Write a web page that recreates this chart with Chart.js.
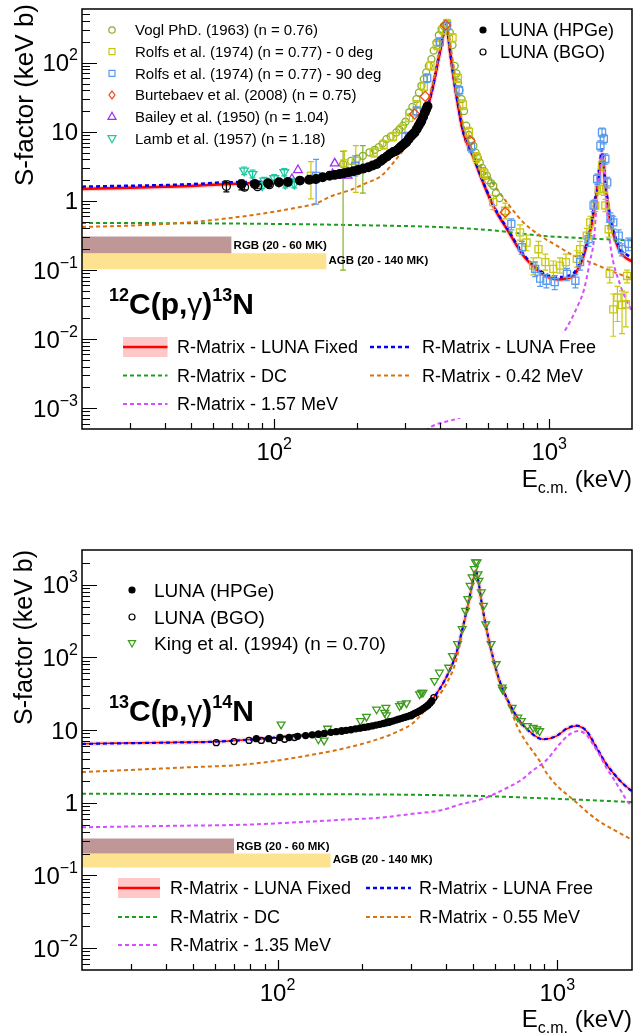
<!DOCTYPE html>
<html><head><meta charset="utf-8">
<script src="https://cdn.jsdelivr.net/npm/chart.js@4/dist/chart.umd.min.js"></script>
<style>
html,body{margin:0;padding:0;background:#fff;}
body{width:644px;height:1033px;position:relative;overflow:hidden;}
#cA{position:absolute;left:0;top:0;}
#cB{position:absolute;left:0;top:505px;}
</style></head><body>
<canvas id="cA" width="644" height="505"></canvas>
<canvas id="cB" width="644" height="528"></canvas>
<script>
// ================= PANEL A : 12C(p,gamma)13N =================
const topXRange = [20, 2000];
const topYRange = [5e-4, 600];
const topXTicks = [100, 1000];
const topXTickLabels = ['10^2', '10^3'];
const topYTicks = [1e-3, 1e-2, 1e-1, 1, 10, 100];
const topYTickLabels = ['10^\u22123', '10^\u22122', '10^\u22121', '1', '10', '10^2'];

// R-Matrix curves
const topFixedE = [20,30,40,50,66,80,100,125,150,180,210,240,270,300,325,345,360,378,390,400,410,420,428,435,447,460,487,530,560,609,643,701,805,927,1000,1081,1160,1227,1290,1335,1400,1432,1470,1494,1530,1556,1575,1600,1635,1670,1740,1815,1900,2000];
const topFixedS = [1.49,1.55,1.60,1.65,1.75,1.80,1.88,2.0,2.2,2.5,2.9,3.5,5.0,6.9,10,15,22,46,85,141,230,335,260,157,70,33,9.8,4.3,2.4,1.07,0.69,0.394,0.162,0.093,0.078,0.073,0.076,0.083,0.115,0.162,0.33,0.49,0.95,1.49,3.0,4.77,3.3,1.66,0.85,0.49,0.27,0.181,0.15,0.133];
const topFreeS = [1.61,1.66,1.70,1.75,1.86,1.88,1.93,2.03,2.22,2.52,2.9,3.5,5.0,6.9,10,15,22,46,87,145,240,350,270,160,72,34,10,4.4,2.45,1.1,0.71,0.41,0.17,0.098,0.083,0.079,0.082,0.09,0.125,0.175,0.36,0.55,1.1,1.75,3.6,5.6,3.9,1.9,0.95,0.55,0.3,0.2,0.17,0.15];
const topDcE = [20,50,100,245,411,600,927,1300,2000];
const topDcS = [0.48,0.475,0.465,0.44,0.417,0.38,0.315,0.29,0.268];
const topR042E = [20,30,46,60,80,100,123,140,163,190,215,245,270,290,310,338,357,375,390,405,420,430,440,455,480,500,530,560,609,701,805,927,1065,1200,1410,1700,2000];
const topR042S = [0.42,0.44,0.48,0.53,0.61,0.7,0.81,0.905,1.19,1.45,1.8,2.3,3.5,5.0,7.05,12.3,23.8,45,90,200,330,280,150,62,16,8.8,5.0,3.2,2.05,0.957,0.49,0.315,0.226,0.17,0.13,0.095,0.075];
const topR157E = [340,373,473,600,800,1000,1150,1290,1335,1410,1450,1494,1530,1556,1575,1600,1635,1670,1815,2000];
const topR157S = [0.0004,0.00054,0.00073,0.0012,0.003,0.007,0.014,0.035,0.05,0.14,0.25,1.1,2.8,4.6,3.2,1.5,0.5,0.22,0.06,0.025];

// data sets
const topHpgeE = [76,85,95,104,112,124,134,142,150,159,166,173,180,186,194,202,211,220,228,236,244,249,257,264,271,278,285,290,296,302,308,314,319,324,330,335,340,343,348,353,357,361];
const topHpgeS = [1.74,1.76,1.80,1.86,1.88,1.97,2.03,2.08,2.2,2.32,2.38,2.45,2.53,2.6,2.7,2.8,2.95,3.07,3.25,3.42,3.8,4.05,4.4,4.8,5.1,5.33,5.8,6.2,6.6,7.05,7.8,8.6,9.2,9.8,11,12.3,13.5,14.5,16.5,19,21.3,23.4];
const topHpgeLo = [1.45,1.6];
const topHpgeHi = [2.0,1.93];
const topBgoE = [67,78,87,96];
const topBgoS = [1.63,1.58,1.61,1.72];
const topBgoLo = [1.35,1.45,1.5,1.6];
const topBgoHi = [1.95,1.72,1.73,1.85];
const voglE = [178,190,200,210,222,232,240,248,256,265,278,285,294,300,310,318,329,336,343,350,357,365,373,380,389,397,406,414,423,435,445,453,460,466,472,480,490,499,510,520,530,540,550,559,570,580,593,600,615,626,640,660];
const voglS = [3.4,3.8,4.1,4.5,5.06,5.5,6.0,6.8,7.86,8.5,9.8,10.8,12.3,14,19.2,23,29.8,37,46.4,58,72.5,90,113,150,196,250,305,340,370,275,180,90,70,52,40,29.8,20,12.3,9.0,7.5,6.3,5.0,4.2,3.6,3.0,2.7,2.32,2.0,1.8,1.66,1.3,1.1];
const voglLo = [0.1,null,null,1.3];
const voglHi = [5.2,null,null,6.3];
const rolfs0E = [136,180,198,230,250,270,290,310,330,350,370,390,410,425,445,465,485,510,545,580,626,692,783,827,875,914,968,1035,1093,1150,1260,1295,1370,1410,1470,1515,1556,1580,1600,1645,1660,1710,1770,1840,1900,1920];
const rolfs0S = [2.32,3.5,3.8,5.0,6.5,8.5,11,16,25,45,90,180,300,370,230,60,25,10,4.3,2.5,0.96,0.72,0.35,0.25,0.116,0.2,0.13,0.104,0.116,0.13,0.145,0.2,0.315,0.49,0.86,1.49,3.24,1.49,0.86,0.39,0.088,0.027,0.04,0.031,0.032,0.082];
const rolfs0Lo = [1.07,2.3,1.33,4.3,5.6,7.4,9.6,14,22,39,78,155,260,320,200,52,21,8.5,3.6,2.1,0.75,0.55,0.27,0.19,0.085,0.15,0.1,0.08,0.09,0.1,0.11,0.155,0.25,0.4,0.7,1.25,2.7,1.2,0.7,0.3,0.065,0.011,0.018,0.012,0.015,0.065];
const rolfs0Hi = [3.7,5.3,6.3,5.8,7.5,9.8,12.6,18,28,52,104,210,345,425,265,69,29,11.6,5.0,2.95,1.2,0.93,0.45,0.32,0.15,0.26,0.17,0.135,0.15,0.17,0.19,0.26,0.4,0.6,1.05,1.8,3.9,1.8,1.05,0.5,0.11,0.045,0.058,0.05,0.048,0.1];
const rolfs90E = [142,197,300,330,360,400,425,470,520,728,795,889,927,977,1047,1160,1245,1295,1390,1450,1494,1535,1556,1580,1600,1625,1670,1710,1790,1840,1940];
const rolfs90S = [2.3,3.2,8.5,20,60,200,340,40,6,0.465,0.214,0.104,0.075,0.07,0.067,0.088,0.07,0.13,0.28,0.86,2.08,6.3,9.8,7.9,4.05,1.86,0.55,0.49,0.315,0.2,0.24];
const rolfs90Lo = [0.9,2.3,7.3,17,52,175,300,34,5.1,0.38,0.17,0.08,0.058,0.055,0.052,0.07,0.055,0.1,0.22,0.7,1.75,5.3,8.4,6.7,3.4,1.55,0.44,0.39,0.25,0.16,0.19];
const rolfs90Hi = [4.0,4.5,9.8,23,69,230,380,46,6.9,0.55,0.26,0.13,0.092,0.086,0.083,0.106,0.086,0.16,0.34,1.02,2.45,7.4,11.3,9.2,4.8,2.2,0.67,0.6,0.38,0.24,0.29];
const burtE = [324,354,420,515,692];
const burtS = [18.1,32.6,350,7.4,0.686];
const baileyE = [116,122,136,163,166,173,185];
const baileyS = [2.08,2.8,1.97,2.45,3.5,2.32,2.32];
const lambE = [77.7,83.4,90.4,92,100,104,108.8,109.7,114,118.3];
const lambS = [2.74,2.45,1.66,1.97,2.13,1.85,2.6,1.76,1.9,1.76];
const lambLo = [2.4,2.15,1.5,1.75,1.9,1.65,2.3,1.55,1.7,1.55];
const lambHi = [3.1,2.8,1.85,2.2,2.4,2.05,2.95,1.98,2.12,1.98];

// stellar Gamow-window bands: [Emin, Emax], [S upper, S lower]
const topRgbE = [20,70];  const topRgbS = [0.305,0.175];
const topAgbE = [20,155]; const topAgbS = [0.175,0.103];
const bandLabels = ['RGB (20 - 60 MK)', 'AGB (20 - 140 MK)'];

const topSeriesLabels = ['Vogl PhD. (1963) (n = 0.76)','Rolfs et al. (1974) (n = 0.77) - 0 deg','Rolfs et al. (1974) (n = 0.77) - 90 deg','Burtebaev et al. (2008) (n = 0.75)','Bailey et al. (1950) (n = 1.04)','Lamb et al. (1957) (n = 1.18)'];
const lunaLabels = ['LUNA (HPGe)','LUNA (BGO)'];
const topModelLabels = ['R-Matrix - LUNA Fixed','R-Matrix - LUNA Free','R-Matrix - DC','R-Matrix - 0.42 MeV','R-Matrix - 1.57 MeV'];

// ================= PANEL B : 13C(p,gamma)14N =================
const botXRange = [20, 1850];
const botYRange = [5e-3, 3000];
const botXTicks = [100, 1000];
const botXTickLabels = ['10^2', '10^3'];
const botYTicks = [1e-2, 1e-1, 1, 10, 100, 1000];
const botYTickLabels = ['10^\u22122', '10^\u22121', '1', '10', '10^2', '10^3'];

const botFixedE = [20,40,60,100,136,180,235,288,310,322,340,360,401,435,460,486,503,511,522,535,557,589,622,676,734,818,889,993,1078,1170,1270,1380,1498,1582,1700,1816,1850];
const botFixedS = [6.5,6.75,6.94,7.9,8.75,10.0,12.0,14.7,16.0,17.8,21,27,53,111,259,673,1268,1566,1140,603,259,100,47.6,22.7,13.4,8.75,7.47,8.26,10.3,11.4,9.7,5.74,3.38,2.59,1.9,1.53,1.45];
const botFreeS = [6.45,6.72,6.92,7.9,8.75,10.0,12.0,14.7,16.0,17.8,21,27,53,112,262,680,1280,1575,1150,608,260,100,47.6,22.7,13.4,8.75,7.47,8.3,10.4,11.5,9.8,5.8,3.4,2.6,1.9,1.52,1.44];
const botDcE = [20,100,231,385,573,800,1124,1500,1850];
const botDcS = [1.33,1.31,1.30,1.27,1.23,1.17,1.11,1.06,1.02];
const botR055E = [20,45,78,136,180,231,270,305,349,380,401,435,460,486,503,511,522,535,557,589,622,676,714,763,865,914,1000,1138,1380,1600,1850];
const botR055S = [2.64,3.04,3.38,4.64,5.8,7.6,9.6,12.5,22,31,42.8,89.8,250,650,1250,1560,1140,600,255,96,45,21,12,7.47,3.75,2.59,1.7,1.11,0.59,0.42,0.31];
const botR135E = [20,40,78,130,179,231,300,385,450,520,573,650,734,820,914,1018,1100,1190,1270,1343,1420,1500,1582,1700,1780,1850];
const botR135S = [0.46,0.48,0.50,0.55,0.59,0.62,0.7,0.79,0.95,1.08,1.23,1.55,1.99,2.8,3.85,6.37,8.6,9.7,8.6,6.37,4.5,3.0,2.2,1.4,1.05,0.9];

const botHpgeE = [84,93,102,110,118,126,133,140,147,155,162,169,176,183,190,197,204,211,218,225,232,239,245,252,258,265,271,278,284,290,297,303,309,315,321,327,333,339,345,351,356];
const botHpgeS = [7.6,7.6,7.9,7.9,8.2,8.4,8.6,8.8,9.0,9.3,9.5,9.7,9.9,10.1,10.4,10.6,10.9,11.1,11.4,11.7,12.0,12.3,12.6,13.0,13.3,13.7,14.1,14.5,14.9,15.3,15.8,16.3,16.9,17.5,18.2,19.0,19.9,20.9,22.0,23.5,25.2];
const botBgoE = [60.4,69.9,79.1,87.5,97.2,106,115,140,170,205,250,300,362];
const botBgoS = [6.7,6.94,7.2,7.2,7.2,7.47,7.9,8.8,9.7,10.9,12.8,15.7,28];
const kingE = [103,140,146.7,151,198,208,226,241.6,244,245,273,277,289,322,327,331,364,379,409,422,440,457,470,479,488,496,505,510,517,521,525,535,545,555,580,605,635,638,690,723,744,782,820,846,865];
const kingS = [12.0,7.47,7.2,10.5,13.4,15.3,19.3,17.4,20.4,16,21.5,22.7,23.5,31.2,32.8,32.8,47.6,62,72.6,105,153,246,440,638,973,1268,1650,2040,2040,1400,1140,788,516,287,153,81,38.6,36,20.4,14.9,13.4,11.4,10.8,10.3,9.7];

const botRgbE = [20,70];  const botRgbS = [0.322,0.2];
const botAgbE = [20,155]; const botAgbS = [0.2,0.129];

const botSeriesLabels = ['LUNA (HPGe)','LUNA (BGO)','King et al. (1994) (n = 0.70)'];
const botModelLabels = ['R-Matrix - LUNA Fixed','R-Matrix - LUNA Free','R-Matrix - DC','R-Matrix - 0.55 MeV','R-Matrix - 1.35 MeV'];

// ================= styling =================
const FF = '"Liberation Sans", Arial, Helvetica, sans-serif';
const COL = {
  vogl: '#86b02a', rolfs0: '#c8c814', rolfs90: '#5a9af0', burt: '#f04b14',
  bailey: '#a02cf0', lamb: '#1ec8a0', king: '#3c9b1e', black: '#000000',
  red: '#ff0000', blue: '#0000ff', dc: '#1e9e1e', r1: '#d9720f', r2: '#d94dff',
  halo: 'rgba(255,150,150,0.45)', haloB: 'rgba(255,160,160,0.35)', band: '#ffc8c8', rgb: '#bf9797', agb: '#fde38f'
};

const pts = (xs, ys) => xs.map((x, i) => ({ x, y: ys[i] }));
function curve(xs, ys, color, width, dash, order) {
  return { data: pts(xs, ys), showLine: true, borderColor: color, borderWidth: width,
    borderDash: dash || [], pointRadius: 0, fill: false, cubicInterpolationMode: 'monotone',
    order, clip: 0 };
}
function markers(xs, ys, color, style, r, filled, order, rot, lo, hi) {
  return { data: pts(xs, ys), showLine: false, pointStyle: style, pointRadius: r,
    pointBorderColor: color, borderColor: color, pointBorderWidth: 1.3,
    pointBackgroundColor: filled ? color : 'rgba(0,0,0,0)', pointRotation: rot || 0,
    order, errLo: lo, errHi: hi, errColor: color };
}
function band(xs, ys, color) {
  return [
    { data: pts(xs, [ys[0], ys[0]]), showLine: true, borderWidth: 0, pointRadius: 0,
      backgroundColor: color, fill: '+1', order: 60, clip: 0 },
    { data: pts(xs, [ys[1], ys[1]]), showLine: true, borderWidth: 0, pointRadius: 0,
      fill: false, order: 60, clip: 0 }
  ];
}

function setFont(ctx, size, bold) { ctx.font = (bold ? 'bold ' : '') + size + 'px ' + FF; }
function drawParts(ctx, parts, x, y, align) {
  let total = 0;
  const ws = parts.map(p => { setFont(ctx, p.size, p.bold); const w = ctx.measureText(p.t).width; total += w; return w; });
  let cx = align === 'right' ? x - total : (align === 'center' ? x - total / 2 : x);
  ctx.textAlign = 'left'; ctx.textBaseline = 'alphabetic';
  parts.forEach((p, i) => { setFont(ctx, p.size, p.bold); ctx.fillText(p.t, cx, y + (p.dy || 0)); cx += ws[i]; });
}
function tickParts(label, size, sup) {
  const [b, e] = label.split('^');
  const parts = [{ t: b, size }];
  if (e) parts.push({ t: e, size: sup, dy: -Math.round(size * 0.45) });
  return parts;
}
function drawMarker(ctx, m, x, y) {
  ctx.save();
  ctx.lineWidth = m.lw || 1.2; ctx.strokeStyle = m.color; ctx.fillStyle = m.color;
  ctx.beginPath();
  const r = m.r;
  if (m.style === 'circle') ctx.arc(x, y, r, 0, Math.PI * 2);
  else if (m.style === 'rect') ctx.rect(x - r, y - r, 2 * r, 2 * r);
  else if (m.style === 'rectRot') { ctx.moveTo(x, y - r * 1.3); ctx.lineTo(x + r, y); ctx.lineTo(x, y + r * 1.3); ctx.lineTo(x - r, y); ctx.closePath(); }
  else if (m.style === 'triangle') { const s = m.down ? 1 : -1; ctx.moveTo(x, y + s * r); ctx.lineTo(x + r * 0.9, y - s * r * 0.6); ctx.lineTo(x - r * 0.9, y - s * r * 0.6); ctx.closePath(); }
  if (m.filled) ctx.fill();
  ctx.stroke();
  ctx.restore();
}
function logMinor(min, max) {
  const out = [];
  for (let e = Math.floor(Math.log10(min)); e <= Math.ceil(Math.log10(max)); e++)
    for (let k = 1; k < 10; k++) { const v = k * Math.pow(10, e); if (v > min * 1.0001 && v < max * 0.9999) out.push({ v, major: k === 1 }); }
  return out;
}

function makeDecor(o) {
  return {
    id: o.id,
    beforeDatasetDraw(chart, args) {
      const ds = chart.data.datasets[args.index];
      if (!ds.errLo) return;
      const ctx = chart.ctx, ys = chart.scales.y, a = chart.chartArea;
      ctx.save();
      ctx.beginPath(); ctx.rect(a.left, a.top, a.right - a.left, a.bottom - a.top); ctx.clip();
      ctx.strokeStyle = ds.errColor; ctx.lineWidth = 1.2;
      args.meta.data.forEach((el, i) => {
        const lo = ds.errLo[i], hi = ds.errHi[i];
        if (lo == null || hi == null) return;
        const y1 = ys.getPixelForValue(lo), y2 = ys.getPixelForValue(hi);
        ctx.beginPath();
        ctx.moveTo(el.x, y1); ctx.lineTo(el.x, y2);
        ctx.moveTo(el.x - 3, y1); ctx.lineTo(el.x + 3, y1);
        ctx.moveTo(el.x - 3, y2); ctx.lineTo(el.x + 3, y2);
        ctx.stroke();
      });
      ctx.restore();
    },
    afterDatasetsDraw(chart) {
      const ctx = chart.ctx, a = chart.chartArea, xs = chart.scales.x, ys = chart.scales.y;
      ctx.save();
      if (o.whiteBox) { ctx.fillStyle = '#fff'; ctx.fillRect(...o.whiteBox); }
      ctx.fillStyle = '#000';
      o.bandLabels.forEach(b => {
        const x = xs.getPixelForValue(b.e) + 2, y = ys.getPixelForValue(b.s) - 4;
        drawParts(ctx, [{ t: b.text, size: 11.5, bold: true }], x, y, 'left');
      });
      ctx.strokeStyle = '#000'; ctx.lineWidth = 1.5;
      ctx.strokeRect(a.left, a.top, a.right - a.left, a.bottom - a.top);
      ctx.lineWidth = 1.2; ctx.beginPath();
      logMinor(xs.min, xs.max).forEach(t => {
        const x = Math.round(xs.getPixelForValue(t.v)) + 0.5;
        ctx.moveTo(x, a.bottom); ctx.lineTo(x, a.bottom - (t.major ? 10 : 6));
      });
      logMinor(ys.min, ys.max).forEach(t => {
        const y = Math.round(ys.getPixelForValue(t.v)) + 0.5;
        ctx.moveTo(a.left, y); ctx.lineTo(a.left + (t.major ? 15 : 8), y);
      });
      ctx.stroke();
      ctx.fillStyle = '#000';
      o.xTicks.forEach((v, i) => drawParts(ctx, tickParts(o.xTickLabels[i], 24, 16), xs.getPixelForValue(v), a.bottom + 31, 'center'));
      o.yTicks.forEach((v, i) => drawParts(ctx, tickParts(o.yTickLabels[i], 24, 16), a.left - 4, ys.getPixelForValue(v) + 8.5, 'right'));
      drawParts(ctx, [{ t: 'E', size: 24 }, { t: 'c.m.', size: 16, dy: 6 }, { t: ' (keV)', size: 24 }], a.right, o.xTitleY, 'right');
      ctx.save(); ctx.translate(o.yTitle.x, o.yTitle.y); ctx.rotate(-Math.PI / 2);
      setFont(ctx, o.yTitle.size, false); ctx.textAlign = 'right'; ctx.textBaseline = 'alphabetic';
      ctx.fillText('S-factor (keV b)', 0, 0); ctx.restore();
      const R = o.reaction;
      drawParts(ctx, [
        { t: R.a, size: 18, bold: true, dy: -13 }, { t: 'C(p,', size: 30, bold: true },
        { t: '\u03b3', size: 30 }, { t: ')', size: 30, bold: true },
        { t: R.b, size: 18, bold: true, dy: -13 }, { t: 'N', size: 30, bold: true }], R.x, R.y, 'left');
      o.pointLegends.forEach(L => {
        L.items.forEach((it, i) => {
          const y = L.rows[i];
          drawMarker(ctx, it.m, L.mx, y);
          ctx.fillStyle = '#000';
          drawParts(ctx, [{ t: it.label, size: L.size }], L.tx, y + L.size * 0.36, 'left');
        });
      });
      const M = o.model;
      M.items.forEach((it, i) => {
        const c = i % 2, r = Math.floor(i / 2);
        const y = M.rows[r], x1 = M.mx[c][0], x2 = M.mx[c][1];
        ctx.save();
        if (it.band) { ctx.fillStyle = COL.band; ctx.fillRect(x1, y - 10, x2 - x1, 20); }
        ctx.strokeStyle = it.color; ctx.lineWidth = it.w; ctx.setLineDash(it.dash || []);
        ctx.beginPath(); ctx.moveTo(x1, y); ctx.lineTo(x2, y); ctx.stroke();
        ctx.restore();
        ctx.fillStyle = '#000';
        drawParts(ctx, [{ t: it.label, size: 18 }], M.tx[c], y + 18 * 0.36, 'left');
      });
      ctx.restore();
    }
  };
}

function buildChart(id, datasets, decor, xr, yr, pad) {
  return new Chart(document.getElementById(id), {
    type: 'line',
    data: { datasets },
    options: {
      responsive: false, animation: false, devicePixelRatio: 1, events: [],
      layout: { padding: pad },
      scales: {
        x: { type: 'logarithmic', min: xr[0], max: xr[1], display: false },
        y: { type: 'logarithmic', min: yr[0], max: yr[1], display: false }
      },
      plugins: { legend: { display: false }, tooltip: { enabled: false } }
    },
    plugins: [decor]
  });
}

const DASH = [4, 3];
const mk = {
  vogl: { style: 'circle', r: 3.2, color: COL.vogl },
  rolfs0: { style: 'rect', r: 3, color: COL.rolfs0 },
  rolfs90: { style: 'rect', r: 3, color: COL.rolfs90 },
  burt: { style: 'rectRot', r: 3, color: COL.burt },
  bailey: { style: 'triangle', r: 4.5, color: COL.bailey },
  lamb: { style: 'triangle', r: 4.5, color: COL.lamb, down: true }
};

// ----- chart A -----
const dsA = [
  ...band(topRgbE, topRgbS, COL.rgb),
  ...band(topAgbE, topAgbS, COL.agb),
  curve(topFixedE, topFixedS, COL.halo, 5, null, 40),
  curve(topFixedE, topFixedS, COL.red, 2.5, null, 30),
  curve(topFixedE, topFreeS, COL.blue, 2.5, DASH, 29),
  curve(topDcE, topDcS, COL.dc, 2, DASH, 28),
  curve(topR042E, topR042S, COL.r1, 2, DASH, 27),
  curve(topR157E, topR157S, COL.r2, 2, DASH, 26),
  markers(voglE, voglS, COL.vogl, 'circle', 3.5, false, 10, 0, voglLo, voglHi),
  markers(rolfs0E, rolfs0S, COL.rolfs0, 'rect', 5, false, 9, 0, rolfs0Lo, rolfs0Hi),
  markers(rolfs90E, rolfs90S, COL.rolfs90, 'rect', 5, false, 8, 0, rolfs90Lo, rolfs90Hi),
  markers(burtE, burtS, COL.burt, 'rectRot', 5, false, 7),
  markers(baileyE, baileyS, COL.bailey, 'triangle', 5, false, 6),
  markers(lambE, lambS, COL.lamb, 'triangle', 5, false, 5, 180, lambLo, lambHi),
  markers(topBgoE, topBgoS, COL.black, 'circle', 4, false, 2, 0, topBgoLo, topBgoHi),
  markers(topHpgeE, topHpgeS, COL.black, 'circle', 4.3, true, 1, 0, topHpgeLo, topHpgeHi)
];
buildChart('cA', dsA, makeDecor({
  id: 'decorA', whiteBox: [112, 333, 488, 85],
  bandLabels: [{ e: topRgbE[1], s: topRgbS[1], text: bandLabels[0] }, { e: topAgbE[1], s: topAgbS[1] + 0.003, text: bandLabels[1] }],
  xTicks: topXTicks, xTickLabels: topXTickLabels, yTicks: topYTicks, yTickLabels: topYTickLabels,
  xTitleY: 487, yTitle: { x: 33, y: 4, size: 26 },
  reaction: { a: '12', b: '13', x: 109, y: 314 },
  pointLegends: [
    { mx: 112, tx: 135, size: 15, rows: [30, 51.7, 73.3, 95, 116.7, 138.3], items: [
      { m: mk.vogl, label: topSeriesLabels[0] }, { m: mk.rolfs0, label: topSeriesLabels[1] },
      { m: mk.rolfs90, label: topSeriesLabels[2] }, { m: mk.burt, label: topSeriesLabels[3] },
      { m: mk.bailey, label: topSeriesLabels[4] }, { m: mk.lamb, label: topSeriesLabels[5] }] },
    { mx: 483, tx: 500, size: 18, rows: [30, 52], items: [
      { m: { style: 'circle', r: 3, color: '#000', filled: true }, label: lunaLabels[0] },
      { m: { style: 'circle', r: 3, color: '#000' }, label: lunaLabels[1] }] }
  ],
  model: { rows: [347, 375.5, 404], mx: [[123, 167.5], [370, 411.5]], tx: [177, 422], items: [
    { label: topModelLabels[0], color: COL.red, w: 2.5, band: true },
    { label: topModelLabels[1], color: COL.blue, w: 2.5, dash: DASH },
    { label: topModelLabels[2], color: COL.dc, w: 2, dash: DASH },
    { label: topModelLabels[3], color: COL.r1, w: 2, dash: DASH },
    { label: topModelLabels[4], color: COL.r2, w: 2, dash: DASH }] }
}), topXRange, topYRange, { left: 82, right: 12, top: 9, bottom: 76 });

// ----- chart B -----
const dsB = [
  ...band(botRgbE, botRgbS, COL.rgb),
  ...band(botAgbE, botAgbS, COL.agb),
  curve(botFixedE, botFixedS, COL.haloB, 5, null, 40),
  curve(botFixedE, botFixedS, COL.red, 1.5, null, 30),
  curve(botFixedE, botFreeS, COL.blue, 2.2, DASH, 29),
  curve(botDcE, botDcS, COL.dc, 2, DASH, 28),
  curve(botR055E, botR055S, COL.r1, 2, DASH, 27),
  curve(botR135E, botR135S, COL.r2, 2, DASH, 26),
  markers(kingE, kingS, COL.king, 'triangle', 4.5, false, 5, 180),
  markers(botBgoE, botBgoS, COL.black, 'circle', 3, false, 2),
  markers(botHpgeE, botHpgeS, COL.black, 'circle', 3, true, 1)
];
buildChart('cB', dsB, makeDecor({
  id: 'decorB', whiteBox: null,
  bandLabels: [{ e: botRgbE[1], s: botRgbS[1], text: bandLabels[0] }, { e: botAgbE[1], s: botAgbS[1], text: bandLabels[1] }],
  xTicks: botXTicks, xTickLabels: botXTickLabels, yTicks: botYTicks, yTickLabels: botYTickLabels,
  xTitleY: 522, yTitle: { x: 32, y: 45, size: 25 },
  reaction: { a: '13', b: '14', x: 109, y: 216 },
  pointLegends: [
    { mx: 132, tx: 154, size: 19, rows: [85, 112, 138], items: [
      { m: { style: 'circle', r: 3, color: '#000', filled: true }, label: botSeriesLabels[0] },
      { m: { style: 'circle', r: 3, color: '#000' }, label: botSeriesLabels[1] },
      { m: { style: 'triangle', r: 4, color: COL.king, down: true }, label: botSeriesLabels[2] }] }
  ],
  model: { rows: [383, 412, 440], mx: [[118, 160], [366, 411]], tx: [170, 419], items: [
    { label: botModelLabels[0], color: COL.red, w: 2.5, band: true },
    { label: botModelLabels[1], color: COL.blue, w: 2.5, dash: DASH },
    { label: botModelLabels[2], color: COL.dc, w: 2, dash: DASH },
    { label: botModelLabels[3], color: COL.r1, w: 2, dash: DASH },
    { label: botModelLabels[4], color: COL.r2, w: 2, dash: DASH }] }
}), botXRange, botYRange, { left: 82, right: 12, top: 45, bottom: 63 });
</script>
</body></html>
